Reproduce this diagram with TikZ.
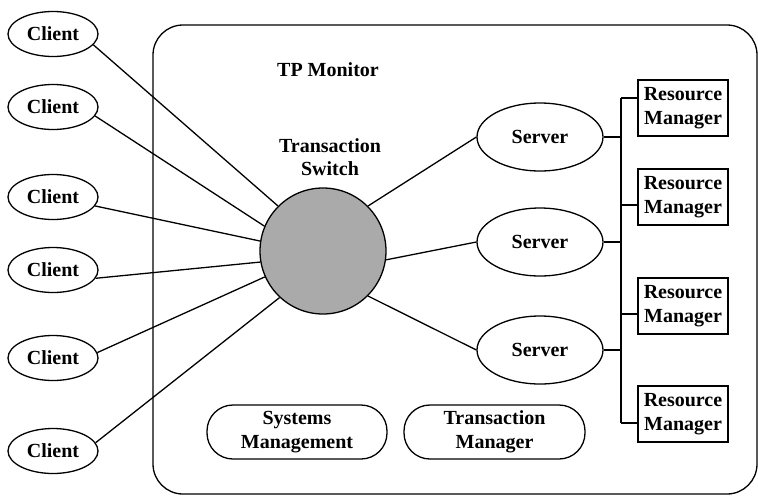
\documentclass[tikz,border=0pt]{standalone}
\usepackage{fontspec}
\setmainfont{Liberation Serif}
\usetikzlibrary{shapes.geometric}
\definecolor{switchgray}{RGB}{170,170,170}
\begin{document}
\begin{tikzpicture}[x=1pt,y=-1pt,
  every node/.style={font=\fontsize{20}{23.5}\selectfont\bfseries, align=center, inner sep=0pt},
  wire/.style={line width=1.3pt},
  client/.style={ellipse, draw, line width=1.3pt, minimum width=90, minimum height=45},
  server/.style={ellipse, draw, line width=1.3pt, minimum width=126, minimum height=68},
  resmgr/.style={rectangle, draw, line width=1.3pt, minimum width=90, minimum height=56},
  service/.style={rectangle, draw, line width=1.3pt, rounded corners=26pt, minimum width=180, minimum height=54},
  switch/.style={circle, draw, line width=1.3pt, fill=switchgray, minimum size=126}]
\useasboundingbox (0,0) rectangle (758,496);

% TP monitor frame
\draw[line width=1.3pt, rounded corners=30pt] (153,25) rectangle (757,494);
\node (tpm) at (328,70) {TP Monitor};
\node (swlabel) at (330,157) {Transaction\\Switch};

% transaction switch
\node[switch] (sw) at (323,251) {};

% clients
\node[client] (c1) at (53,34)  {Client};
\node[client] (c2) at (53,107) {Client};
\node[client] (c3) at (53,197) {Client};
\node[client] (c4) at (53,270) {Client};
\node[client] (c5) at (53,358) {Client};
\node[client] (c6) at (53,451) {Client};

% servers
\node[server] (s1) at (540,137) {Server};
\node[server] (s2) at (540,242) {Server};
\node[server] (s3) at (540,350) {Server};

% resource managers
\node[resmgr] (r1) at (683,108) {Resource\\Manager};
\node[resmgr] (r2) at (683,197) {Resource\\Manager};
\node[resmgr] (r3) at (683,306) {Resource\\Manager};
\node[resmgr] (r4) at (683,414) {Resource\\Manager};

% management services
\node[service] (sm) at (297,432) {Systems\\Management};
\node[service, minimum width=181] (tm) at (494.5,432) {Transaction\\Manager};

% client connections
\draw[wire] (c1.-15) -- (sw.135);
\draw[wire] (c2.-12) -- (sw.157);
\draw[wire] (c3.-12) -- (sw.171);
\draw[wire] (c4.-11) -- (sw.190);
\draw[wire] (c5.7)   -- (sw.204);
\draw[wire] (c6.11)  -- (sw.227);

% server connections
\draw[wire] (sw.45)  -- (s1.west);
\draw[wire] (sw.-8)  -- (s2.west);
\draw[wire] (sw.-45) -- (s3.west);

% resource bus
\coordinate (k1) at (621,98);
\coordinate (k2) at (621,205);
\coordinate (k3) at (621,314);
\coordinate (k4) at (621,423);
\draw[wire] (k1) -- (k4);
\draw[wire] (s1.east) -- (s1.east -| k1);
\draw[wire] (s2.east) -- (s2.east -| k1);
\draw[wire] (s3.east) -- (s3.east -| k1);
\draw[wire] (k1) -- (k1 -| r1.west);
\draw[wire] (k2) -- (k2 -| r2.west);
\draw[wire] (k3) -- (k3 -| r3.west);
\draw[wire] (k4) -- (k4 -| r4.west);
\end{tikzpicture}
\end{document}
